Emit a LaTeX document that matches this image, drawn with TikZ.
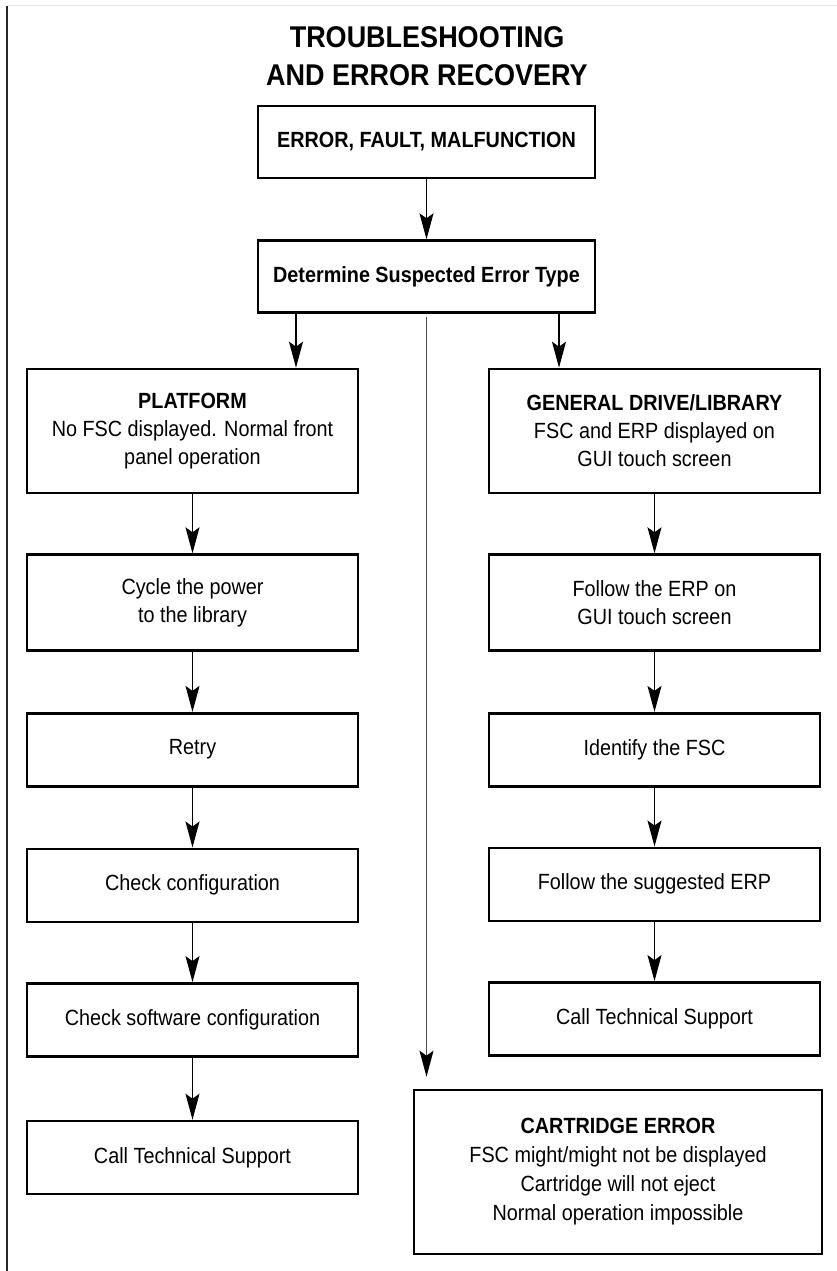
\documentclass[tikz,border=0pt]{standalone}
\usepackage{fontspec}
\setmainfont[FakeStretch=0.9]{Liberation Sans}
\usetikzlibrary{positioning, arrows.meta}

\begin{document}
\begin{tikzpicture}[->, >={Stealth[length=26pt,width=14pt,inset=5pt]}, line width=1.2pt,
        stepbox/.style={rectangle, draw, fill=white, line width=2.6pt, minimum width=331pt,
            minimum height=73pt, align=center, inner sep=0pt, font=\fontsize{22}{28}\selectfont},
        headbox/.style={stepbox, minimum width=337pt, minimum height=72pt,
            font=\bfseries\fontsize{22}{28}\selectfont}]
        \useasboundingbox (0,0) rectangle (837pt,-1271pt);

        % Marco
        \draw[-, line width=2.3pt, black!85] (7pt,-6pt) -- (7pt,-1271pt);
        \draw[-, line width=1pt, black!10] (8pt,-6pt) -- (837pt,-6pt);

        % Titulo
        \node[font=\bfseries\fontsize{30}{38}\selectfont, align=center, inner sep=0pt] (title)
            at (427pt,-56pt) {TROUBLESHOOTING\\AND ERROR RECOVERY};

        % Cajas superiores
        \node[headbox] (err) at (426.5pt,-142pt) {ERROR, FAULT, MALFUNCTION};
        \node[headbox, below=60pt of err] (det) {Determine Suspected Error Type};

        % Columna izquierda
        \node[stepbox, minimum height=124pt] (plat) at (192.5pt,-431pt)
            {\textbf{PLATFORM}\\No FSC displayed. Normal front\\panel operation};
        \node[stepbox, minimum height=96pt, below=59pt of plat] (cycle) {Cycle the power\\to the library};
        \node[stepbox, below=60pt of cycle] (retry) {Retry};
        \node[stepbox, below=60pt of retry] (conf) {Check configuration};
        \node[stepbox, below=59pt of conf] (soft) {Check software configuration};
        \node[stepbox, below=62pt of soft] (calll) {Call Technical Support};

        % Columna derecha
        \node[stepbox, minimum height=124pt] (gen) at (654.5pt,-431pt)
            {\textbf{GENERAL DRIVE/LIBRARY}\\FSC and ERP displayed on\\GUI touch screen};
        \node[stepbox, minimum height=96pt, below=59pt of gen] (erp) {Follow the ERP on\\GUI touch screen};
        \node[stepbox, below=60pt of erp] (ident) {Identify the FSC};
        \node[stepbox, below=59pt of ident] (sugg) {Follow the suggested ERP};
        \node[stepbox, below=59pt of sugg] (callr) {Call Technical Support};

        % Cartucho
        \node[stepbox, minimum width=408pt, minimum height=164pt, font=\fontsize{22}{29}\selectfont] (cart)
            at (618pt,-1172pt) {\textbf{CARTRIDGE ERROR}\\FSC might/might not be displayed\\Cartridge will not eject\\Normal operation impossible};

        % Flechas
        \draw (err) -- (det);
        \draw ([xshift=-130.5pt]det.south) -- ([xshift=103.5pt]plat.north);
        \draw ([xshift=132.5pt]det.south) -- ([xshift=-95.5pt]gen.north);
        \draw[-{Stealth[length=26pt,width=14pt,inset=5pt,black]}, black!70, line width=1.3pt,
            shorten <=3pt, shorten >=12pt] (det.south) -- (det.south |- cart.north);
        \foreach \a/\b in {plat/cycle, cycle/retry, retry/conf, conf/soft, soft/calll,
                gen/erp, erp/ident, ident/sugg, sugg/callr}
            \draw (\a) -- (\b);
    \end{tikzpicture}
\end{document}
